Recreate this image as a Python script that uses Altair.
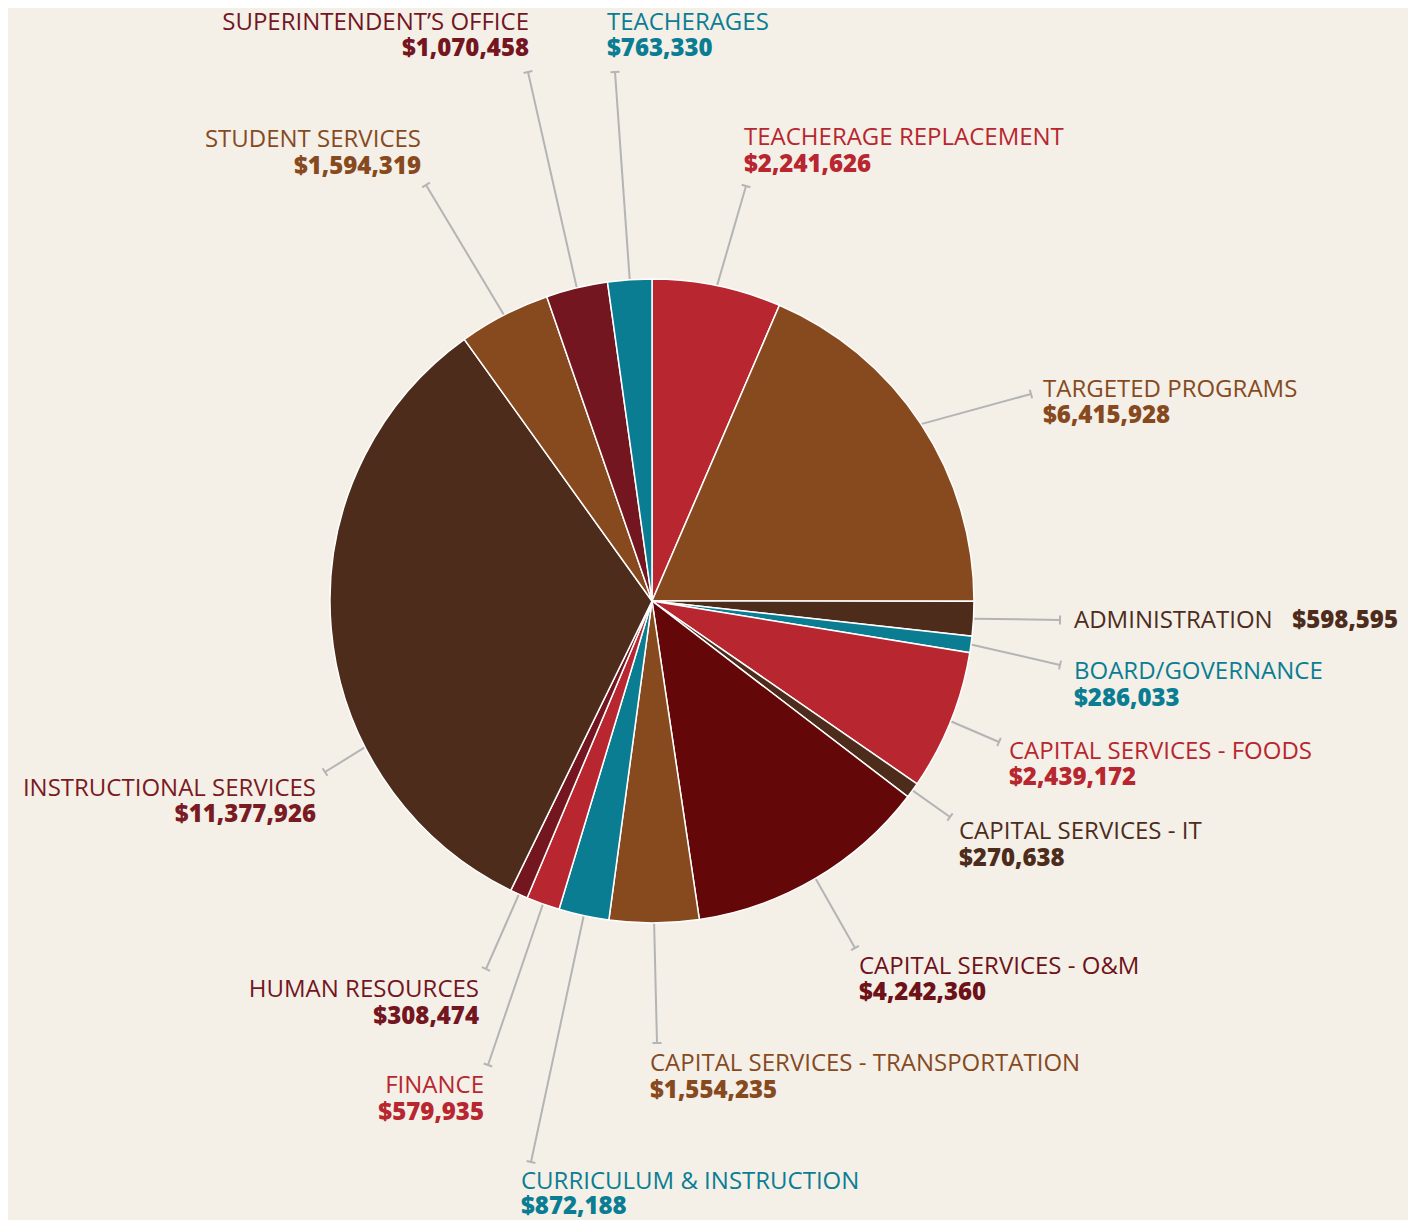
import math
import altair as alt
import pandas as pd

# ---------------- data ----------------
names = [
    "TEACHERAGE REPLACEMENT", "TARGETED PROGRAMS", "ADMINISTRATION",
    "BOARD/GOVERNANCE", "CAPITAL SERVICES - FOODS", "CAPITAL SERVICES - IT",
    "CAPITAL SERVICES - O&M", "CAPITAL SERVICES - TRANSPORTATION",
    "CURRICULUM & INSTRUCTION", "FINANCE", "HUMAN RESOURCES",
    "INSTRUCTIONAL SERVICES", "STUDENT SERVICES", "SUPERINTENDENT\u2019S OFFICE",
    "TEACHERAGES",
]
values = [2241626, 6415928, 598595, 286033, 2439172, 270638, 4242360, 1554235,
          872188, 579935, 308474, 11377926, 1594319, 1070458, 763330]

# ---------------- styles ----------------
RED, BROWN, DKBROWN, TEAL, DKRED, MAROON = (
    "#b8262f", "#874a1f", "#4d2c1c", "#0b7d93", "#73161f", "#640709")
slice_colors = [RED, BROWN, DKBROWN, TEAL, RED, DKBROWN, MAROON, BROWN,
                TEAL, RED, DKRED, DKBROWN, BROWN, DKRED, TEAL]
label_colors = [RED, BROWN, DKBROWN, TEAL, RED, DKBROWN, "#6e1219", BROWN,
                TEAL, RED, DKRED, "#7a1a22", BROWN, DKRED, TEAL]

# ---------------- layout (page pixels) ----------------
W, H = 1400, 1212
OX, OY = 8, 8
CX, CY, R = 652, 601, 322
# leader tick end, label x, align, name baseline, value baseline
tick_end = [(746, 186), (1031, 394), (1060, 620), (1060, 665), (999, 742),
            (950, 817), (855, 948), (657, 1043), (531, 1162), (488, 1065),
            (486, 969), (325, 772), (426, 185), (528, 72), (615, 72)]
label_x = [744, 1043, 1074, 1074, 1009, 959, 859, 650, 521, 484, 479, 316,
           421, 529, 607]
label_align = ["left", "left", "left", "left", "left", "left", "left", "left",
               "left", "right", "right", "right", "right", "right", "left"]
name_y = [145, 397, 628, 679, 759, 839, 974, 1071, 1189, 1093, 997, 796, 147,
          30, 30]
value_y = [172, 423, 628, 706, 785, 866, 1000, 1098, 1214, 1120, 1024, 822,
           174, 56, 56]
# Administration value sits on the same line, right-aligned
value_x_override = {2: (1398, "right")}
leader_angle_override = {11: 243.0}

# ---------------- derived tables ----------------
total = float(sum(values))
rows, lines, ticks, labels = [], [], [], []
cum = 0.0
for i, (n, v) in enumerate(zip(names, values)):
    mid = (cum + v / 2) / total * 360.0
    cum += v
    rows.append({"idx": i, "name": n, "value": v, "color": slice_colors[i]})
    ang = math.radians(leader_angle_override.get(i, mid))
    x1 = CX + R * math.sin(ang)
    y1 = CY - R * math.cos(ang)
    x2, y2 = tick_end[i]
    lines.append({"x1": x1, "y1": y1, "x2": x2, "y2": y2})
    dx, dy = x2 - x1, y2 - y1
    ln = math.hypot(dx, dy)
    px, py = -dy / ln, dx / ln
    hl = 4.5
    ticks.append({"x1": x2 - px * hl, "y1": y2 - py * hl,
                  "x2": x2 + px * hl, "y2": y2 + py * hl})
    vx, valign = value_x_override.get(i, (label_x[i], label_align[i]))
    labels.append({"name": n, "vtext": f"${v:,}", "lcolor": label_colors[i],
                   "nx": label_x[i], "ny": name_y[i], "nalign": label_align[i],
                   "vx": vx, "vy": value_y[i], "valign": valign})

pie_df = pd.DataFrame(rows)
line_df = pd.DataFrame(lines)
tick_df = pd.DataFrame(ticks)
lab_df = pd.DataFrame(labels)

xs = alt.Scale(domain=[OX, OX + W], nice=False, zero=False)
ys = alt.Scale(domain=[OY, OY + H], nice=False, zero=False, reverse=True)

pie = alt.Chart(pie_df).mark_arc(
    outerRadius=R, stroke="white", strokeWidth=1.5
).encode(
    theta=alt.Theta("value:Q", stack=True),
    order=alt.Order("idx:Q"),
    color=alt.Color("color:N", scale=None),
    x=alt.value(CX - OX),
    y=alt.value(CY - OY),
)

LINE_COLOR = "#b4b4b4"
leaders = alt.Chart(line_df).mark_rule(color=LINE_COLOR, strokeWidth=2).encode(
    x=alt.X("x1:Q", scale=xs, axis=None),
    y=alt.Y("y1:Q", scale=ys, axis=None),
    x2="x2:Q", y2="y2:Q",
)
tickmarks = alt.Chart(tick_df).mark_rule(color=LINE_COLOR, strokeWidth=2).encode(
    x=alt.X("x1:Q", scale=xs, axis=None),
    y=alt.Y("y1:Q", scale=ys, axis=None),
    x2="x2:Q", y2="y2:Q",
)

FONT = "Open Sans"
FS = 24
text_layers = []
for al in ["left", "right"]:
    text_layers.append(
        alt.Chart(lab_df).transform_filter(alt.datum.nalign == al)
        .mark_text(align=al, baseline="alphabetic", font=FONT, fontSize=FS,
                   fontWeight=500)
        .encode(x=alt.X("nx:Q", scale=xs, axis=None),
                y=alt.Y("ny:Q", scale=ys, axis=None),
                text="name:N", color=alt.Color("lcolor:N", scale=None))
    )
    text_layers.append(
        alt.Chart(lab_df).transform_filter(alt.datum.valign == al)
        .mark_text(align=al, baseline="alphabetic", font=FONT, fontSize=FS,
                   fontWeight=800)
        .encode(x=alt.X("vx:Q", scale=xs, axis=None),
                y=alt.Y("vy:Q", scale=ys, axis=None),
                text="vtext:N", color=alt.Color("lcolor:N", scale=None))
    )

chart = alt.layer(leaders, tickmarks, pie, *text_layers).properties(
    width=W, height=H,
    autosize=alt.AutoSizeParams(type="none"),
    padding=0,
    background="#f4f0e8",
).configure_view(stroke=None)

chart.save("out.html", embed_options={"renderer": "svg", "actions": False})
